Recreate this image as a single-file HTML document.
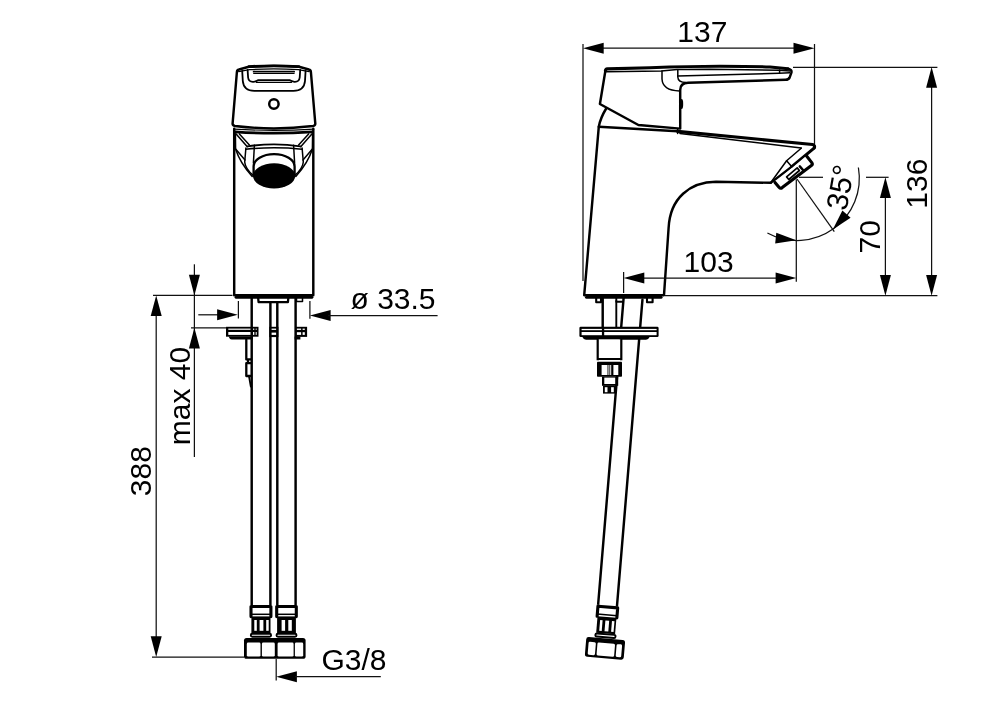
<!DOCTYPE html>
<html lang="en">
<head>
<meta charset="utf-8">
<title>Basin mixer dimension drawing</title>
<style>
  html, body { margin: 0; padding: 0; background: #ffffff; }
  body { width: 1000px; height: 707px; overflow: hidden; }
  svg { display: block; filter: grayscale(1); }
  text { font-family: "Liberation Sans", sans-serif; font-size: 30px; fill: #000; }
  .d { stroke: #111; stroke-width: 1.25; fill: none; }
  .o { stroke: #000; stroke-width: 2.45; fill: none; stroke-linejoin: round; stroke-linecap: round; }
  .k { stroke: #000; stroke-width: 3.1; fill: none; stroke-linejoin: round; stroke-linecap: round; }
  .t { stroke: #000; stroke-width: 1.5; fill: none; stroke-linejoin: round; stroke-linecap: round; }
  .w { fill: #fff; }
  .a { fill: #000; stroke: none; }
</style>
</head>
<body>
<svg width="1000" height="707" viewBox="0 0 1000 707">
<rect x="0" y="0" width="1000" height="707" fill="#ffffff"/>



<!-- FRONT-VIEW-DRAWING -->
<g id="front-view">
  <!-- hoses -->
  <line class="o" x1="251.7" y1="298" x2="251.7" y2="605"/>
  <line class="o" x1="270.4" y1="303" x2="270.4" y2="605"/>
  <line class="o" x1="277.3" y1="303" x2="277.3" y2="605"/>
  <line class="o" x1="295.6" y1="298" x2="295.6" y2="605"/>
  <!-- under-base plate -->
  <path class="o" d="M 258.2,298.4 L 258.6,302.1 L 287.9,302.1 L 288.3,298.4" style="stroke-width:2.3"/>
  <!-- right foot -->
  <path class="t" d="M 296.5,298 L 296.5,301.5 L 302.5,301.5 L 302.5,298"/>
  <!-- mounting plate left part -->
  <rect class="a" x="226" y="326.8" width="32.5" height="9.9"/>
  <rect class="w" x="228.3" y="328.6" width="22.2" height="1.2"/>
  <rect class="w" x="228.3" y="332" width="22.2" height="2.9"/>
  <rect class="w" x="253" y="328.6" width="1.3" height="1.2"/>
  <rect class="w" x="253" y="332" width="1.3" height="2.9"/>
  <rect class="w" x="255.7" y="328.6" width="1" height="1.2"/>
  <rect class="w" x="255.7" y="332" width="1" height="2.9"/>
  <path class="a" d="M 228.6,336.6 L 252.8,336.6 L 252.8,339.5 L 231.6,339.5 Q 229.4,339.2 228.6,336.6 Z"/>
  <!-- center clip -->
  <rect class="a" x="269.3" y="326.8" width="9.1" height="10.3"/>
  <rect class="w" x="271.6" y="328.6" width="4.5" height="1.3"/>
  <rect class="w" x="271.6" y="332.6" width="4.5" height="2.3"/>
  <!-- right clip -->
  <rect class="a" x="295.8" y="326.8" width="11.3" height="10.1"/>
  <rect class="w" x="296.9" y="328.6" width="4.2" height="1.3"/>
  <rect class="w" x="302.6" y="328.6" width="2.2" height="1.3"/>
  <rect class="w" x="296.9" y="332.2" width="4.2" height="2.7"/>
  <rect class="w" x="302.6" y="332.2" width="2.2" height="2.7"/>
  <path class="a" d="M 294.6,336.6 L 300.4,336.6 L 300.4,339.5 L 294.6,339.5 Z"/>
  <!-- stud under plate -->
  <path class="o" d="M 246.3,339.6 L 246.3,359.4 L 250.8,359.4 M 248,360 L 248,363 M 250.6,363.2 L 246.3,363.2 L 246.3,376 L 250.6,376" style="stroke-width:2.3"/>
  <path class="t" d="M 249,376.4 L 250.8,386.5" style="stroke-width:1.8"/>

  <!-- body -->
  <rect class="w" x="234.2" y="128" width="79.1" height="167.3"/>
  <path class="o" d="M 234.2,128.8 L 234.2,295.3 L 313.3,295.3 L 313.3,128.8"/>
  <line class="k" x1="236.2" y1="297.2" x2="311.8" y2="297.2"/>
  <!-- body top -->
  <path class="t" d="M 234,129.1 Q 273.9,131.6 313.8,129.1" style="stroke-width:1.1"/>
  <path class="k" d="M 235.4,131.8 Q 273.9,134.6 312.4,131.8" style="stroke-width:2.7"/>
  <!-- chamfer diagonals -->
  <path class="t" d="M 235.9,133.7 L 247.3,146.8 M 239.4,133.9 L 249.4,144.9"/>
  <path class="t" d="M 312.1,133.7 L 300.7,146.8 M 308.6,133.9 L 298.6,144.9"/>
  <!-- spout front -->
  <path class="t" d="M 247.6,146.4 Q 274,142.4 300.4,146.4" style="stroke-width:1.9"/>
  <path class="t" d="M 245.9,149.2 Q 274,146.4 302.1,149.2"/>
  <path class="t" d="M 254.4,145.2 L 253.4,163"/>
  <path class="t" d="M 293.6,145.2 L 294.6,163"/>
  <path class="t" d="M 245.9,148 L 244.7,162 Q 245.2,168.6 253.2,175.4"/>
  <path class="t" d="M 302.1,148 L 303.3,162 Q 302.8,168.6 294.8,175.4"/>
  <path class="t" d="M 235.4,134 L 235.6,149 Q 240,163 252.2,176.4"/>
  <path class="t" d="M 312.6,134 L 312.4,149 Q 308,163 295.8,176.4"/>
  <path class="t" d="M 235.2,148.6 L 245,160"/>
  <path class="t" d="M 312.8,148.6 L 303,160"/>
  <!-- aerator -->
  <path class="o" d="M 253.6,176 L 253.6,166.6 A 20.5,12.4 0 0 1 294.6,166.6 L 294.6,176" style="stroke-width:2.3"/>
  <ellipse class="a" cx="274.1" cy="175.9" rx="21.1" ry="12.6"/>

  <!-- handle -->
  <path class="w" d="M 232.6,123.5 L 236.9,72 Q 237,70 239,69.5 L 248.8,66.8 Q 273.9,65.3 299,66.8 L 308.8,69.5 Q 310.8,70 310.9,72 L 315.3,123.5 Q 315.4,125.6 313,126 Q 273.9,130.8 235,126 Q 232.5,125.6 232.6,123.5 Z"/>
  <path class="o" d="M 232.6,123.5 L 236.9,72 Q 237,70 239,69.5 L 248.8,66.8 Q 273.9,65.3 299,66.8 L 308.8,69.5 Q 310.8,70 310.9,72 L 315.3,123.5 Q 315.4,125.6 313,126 Q 273.9,130.8 235,126 Q 232.5,125.6 232.6,123.5 Z"/>
  <path class="k" d="M 249,66.6 Q 273.9,64.9 298.8,66.6" style="stroke-width:2.7"/>
  <path class="t" d="M 238.6,71.6 L 249.5,69.6 Q 273.9,68.2 298.3,69.6 L 309.2,71.6" style="stroke-width:1.2"/>
  <!-- U shapes -->
  <path class="t" d="M 242.2,70.8 L 242.8,81 Q 243.6,90.8 254.4,90.8 L 293.4,90.8 Q 304.2,90.8 305,81 L 305.6,70.8" style="stroke-width:1.8"/>
  <path class="t" d="M 247.6,70 L 248.1,77.5 Q 248.6,82 253.3,81.8 Q 256,81.6 258.4,80.1 L 289.4,80.1 Q 291.8,81.6 294.5,81.8 Q 299.2,82 299.7,77.5 L 300.2,70" style="stroke-width:1.8"/>
  <path class="t" d="M 256.4,82.4 L 291.4,82.4" style="stroke-width:1.2"/>
  <line class="t" x1="253.6" y1="71.7" x2="294.2" y2="71.7" style="stroke-width:1.7"/>
  <line class="t" x1="253.6" y1="73.5" x2="294.2" y2="73.5" style="stroke-width:1"/>
  <circle class="o" cx="273.9" cy="104" r="4.7"/>

  <!-- hose ends -->
  <g id="hose-end-l">
    <rect class="w" x="249.8" y="605.2" width="22.3" height="32.4"/>
    <path class="k" d="M 251.0,616.6 L 251.0,606.5 L 270.9,606.5 L 270.9,616.6"/>
    <line x1="251.0" y1="614.3" x2="270.9" y2="614.3" stroke="#000" stroke-width="1.5"/>
    <rect class="a" x="251.4" y="616.4" width="19.1" height="16.6"/>
    <rect class="w" x="254.3" y="620.0" width="2.5" height="10.8"/>
    <rect class="w" x="259.6" y="620.0" width="3.8" height="10.8"/>
    <rect class="w" x="266.2" y="620.0" width="2.5" height="10.8"/>
    <rect x="250.8" y="633.7" width="20.3" height="3.1" rx="1.5" fill="#fff" stroke="#000" stroke-width="1.9"/>
  </g>
  <g id="hose-end-r">
    <rect class="w" x="275.5" y="605.2" width="22.0" height="32.4"/>
    <path class="k" d="M 276.7,616.6 L 276.7,606.5 L 296.3,606.5 L 296.3,616.6"/>
    <line x1="276.7" y1="614.3" x2="296.3" y2="614.3" stroke="#000" stroke-width="1.5"/>
    <rect class="a" x="277.1" y="616.4" width="18.8" height="16.6"/>
    <rect class="w" x="281.6" y="620.0" width="3.5" height="10.8"/>
    <rect class="w" x="288.3" y="620.0" width="3.5" height="10.8"/>
    <rect x="276.5" y="633.7" width="20.0" height="3.1" rx="1.5" fill="#fff" stroke="#000" stroke-width="1.9"/>
  </g>
  <g id="nuts">
    <rect class="a" x="244.0" y="638.0" width="61.6" height="20.8" rx="2.6"/>
    <rect class="w" x="246.8" y="642.6" width="13.7" height="14.0" rx="1.4"/>
    <rect class="w" x="261.9" y="642.6" width="12.9" height="14.0" rx="1.4"/>
    <rect class="w" x="277.6" y="642.6" width="16.0" height="14.0" rx="1.4"/>
    <rect class="w" x="294.9" y="642.6" width="8.3" height="14.0" rx="1.4"/>
  </g>
</g>

<!-- SIDE-VIEW-DRAWING -->
<g id="side-view">
  <!-- hose (tilted) -->
  <g transform="rotate(4.75 633.1 298)">
    <rect class="w" x="623.7" y="299" width="18.8" height="308"/>
    <line class="o" x1="623.65" y1="299" x2="623.65" y2="607"/>
    <line class="o" x1="642.55" y1="299" x2="642.55" y2="607"/>
    <!-- ferrule -->
    <rect class="w" x="622.4" y="606.8" width="22.2" height="32.4"/>
    <path class="k" d="M 623.6,618.2 L 623.6,608.1 L 643.4,608.1 L 643.4,618.2"/>
    <line x1="623.6" y1="615.9" x2="643.4" y2="615.9" stroke="#000" stroke-width="1.5"/>
    <rect class="a" x="624.0" y="618.0" width="19.0" height="16.6"/>
    <rect class="w" x="626.9" y="621.6" width="2.5" height="10.8"/>
    <rect class="w" x="632.2" y="621.6" width="3.8" height="10.8"/>
    <rect class="w" x="638.8" y="621.6" width="2.5" height="10.8"/>
    <rect x="623.4" y="635.3" width="20.2" height="3.1" rx="1.5" fill="#fff" stroke="#000" stroke-width="1.9"/>
    <!-- nut -->
    <rect class="a" x="614.6" y="639.6" width="39.0" height="19.8" rx="2.6"/>
    <rect class="w" x="617.3" y="644.2" width="7.3" height="13.0" rx="1.4"/>
    <rect class="w" x="626.2" y="644.2" width="17.6" height="13.0" rx="1.4"/>
    <rect class="w" x="645.4" y="644.2" width="5.5" height="13.0" rx="1.4"/>
  </g>
  <!-- stud + rod under base -->
  <line class="o" x1="602.7" y1="298" x2="602.7" y2="328"/>
  <line class="o" x1="616.3" y1="301" x2="616.3" y2="328" style="stroke-width:1.9"/>
  
  <path class="o" d="M 616.3,298 L 616.3,301.8 L 622,301.8" style="stroke-width:1.9"/>
  <!-- feet -->
  <path class="o" d="M 596.2,298 L 596.2,302.3 L 601,302.3 L 601,298" style="stroke-width:2.1"/>
  <path class="o" d="M 647,298 L 647,302.3 L 652.6,302.3 L 652.6,298" style="stroke-width:2.1"/>
  <!-- mounting plate -->
  <rect class="a" x="579.4" y="326.7" width="79.2" height="10.3" rx="1.3"/>
  <rect class="w" x="581.6" y="328.9" width="20.3" height="1.3"/>
  <rect class="w" x="604.2" y="328.9" width="52.4" height="1.3"/>
  <rect class="w" x="581.6" y="332" width="20.3" height="3.2"/>
  <rect class="w" x="604.2" y="332" width="52.4" height="3.2"/>
  <path class="a" d="M 582.2,336.8 L 649.8,336.8 Q 648.6,339.6 646,339.8 L 586,339.8 Q 583.4,339.6 582.2,336.8 Z"/>
  <!-- cylinder / nut under plate -->
  <rect class="w" x="597.7" y="339.4" width="23.6" height="20"/>
  <path class="o" d="M 597.7,339.6 L 597.7,359.1 L 621.3,359.1 L 621.3,339.6" style="stroke-width:2.2;stroke-linejoin:miter"/>
  <rect class="w" x="599" y="360" width="21" height="2"/>
  <rect class="a" x="597" y="361.7" width="25" height="15.1" rx="0.8"/>
  <rect class="w" x="601.6" y="365" width="5.9" height="10"/>
  <rect class="w" x="613.4" y="365" width="4.9" height="10"/>
  <rect class="w" x="608.4" y="365" width="1" height="10"/>
  <rect class="w" x="610.2" y="365" width="1" height="10"/>
  <rect class="a" x="602" y="376.6" width="16.2" height="9.2"/>
  <rect class="w" x="604.3" y="377.6" width="10.9" height="6.4"/>
  <rect class="a" x="603" y="385.6" width="12.4" height="8"/>
  <rect class="w" x="604.8" y="387.2" width="2.7" height="5"/>
  <rect class="w" x="611.1" y="387.2" width="2.7" height="5"/>

  <!-- body -->
  <path class="w" d="M 598.8,126.7 L 677.8,130.8 L 813.8,144.8 Q 816.6,145.6 815.6,148.4 L 771,182.6 L 716,181.8 C 690,182 670,198 668.6,228 L 664,295.2 L 584.2,295.2 Z"/>
  <path class="o" d="M 605.9,109 Q 600.4,118 598.8,126.7 L 584.2,295.2 L 664,295.2 L 668.6,228 C 670,198 690,182 716,181.8 L 770.8,182.8"/>
  <line class="k" x1="586.6" y1="297.2" x2="661" y2="297.2"/>
  <!-- body top line -->
  <path class="o" d="M 598.8,126.7 L 677.6,131.3"/>
  <path class="k" d="M 677.6,131.4 L 812.6,144.5 Q 815.2,145.2 814.4,147.8"/>
  <path class="t" d="M 680,133.4 L 801.2,148"/>
  <line class="t" x1="677.6" y1="128.6" x2="677.6" y2="133.6"/>
  <!-- spout face -->
  <path class="k" d="M 813.8,148.4 L 791.8,166.6"/>
  <path class="o" d="M 791.8,166.6 L 771,182.6"/>
  <path class="t" d="M 801.2,148.2 L 786.6,160.8 L 771.2,182"/>
  <path class="t" d="M 786.6,160.8 L 791.6,166.6"/>
  <!-- aerator -->
  <path class="w" d="M 806.4,155.8 L 812.4,163.4 L 780.4,188.2 L 774.8,182.4 Z"/>
  <path class="k" d="M 806.4,155.8 L 811.8,162.6 Q 813,164.4 811.4,165.6 L 782.2,187.6 Q 780.4,188.8 779,187.2 L 775,182.4"/>
  <path d="M 786.6,176.9 L 797.2,167.9 L 799.4,170.5 L 788.8,179.5 Z" fill="#fff" stroke="#000" stroke-width="1.7" stroke-linejoin="round"/>
  <path class="o" d="M 799.8,166.4 L 803,170"/>

  <!-- handle -->
  <path class="w" d="M 605.4,70.8 Q 605.6,69.1 607.4,68.9 L 650,67.7 Q 690,66.2 720,66.2 Q 750,66.2 770,67 L 788,68.8 Q 792.2,69.6 791.4,72.6 L 789.6,77.6 Q 788.6,79.7 785.6,79.8 L 688,82.7 Q 680.2,83 680.2,90 L 680.2,128.6 L 638.4,125 L 599.9,104 Z"/>
  <path class="o" d="M 605.4,70.8 L 599.9,104 L 638.4,125 L 680.2,128.6 L 680.2,90 Q 680.2,83 688,82.7 L 785.6,79.8 Q 788.6,79.7 789.6,77.6 L 791.4,72.6 Q 792.2,69.6 788,68.8"/>
  <path class="k" d="M 605.4,70.8 Q 605.6,69.1 607.4,68.9 L 650,67.7 Q 690,66.2 720,66.2 Q 750,66.2 770,67 L 788,68.8"/>
  <path class="t" d="M 606.4,71.8 L 661.4,70.9 L 677,69.6 L 710,69.3 L 779,70.3 L 790,70.9"/>
  <path class="t" d="M 662,71 L 662,79 Q 662.6,90.4 679.4,91"/>
  <path class="t" d="M 677.8,70 L 677.8,77 Q 678,82.4 686,82.6"/>
  <path class="t" d="M 677.8,76 L 779,73.3 L 789.8,72.8"/>
  <path class="t" d="M 779.6,70 L 779.6,72.8"/>
  <ellipse class="a" cx="681.6" cy="104" rx="1.6" ry="5"/>
</g>

<!-- ================= DIMENSIONS : FRONT VIEW ================= -->
<g id="dims-front">
  <!-- 388 -->
  <line class="d" x1="153" y1="295.4" x2="232.5" y2="295.4"/>
  <line class="d" x1="152" y1="657" x2="244" y2="657"/>
  <line class="d" x1="156.2" y1="300" x2="156.2" y2="652"/>
  <polygon class="a" points="156.2,295.4 161.7,316.1 150.7,316.1"/>
  <polygon class="a" points="156.2,657.0 150.7,636.3 161.7,636.3"/>
  <text transform="translate(151,471.2) rotate(-90)" text-anchor="middle">388</text>
  <!-- max 40 -->
  <line class="d" x1="194.4" y1="264.3" x2="194.4" y2="457"/>
  <polygon class="a" points="194.4,295.4 188.9,274.7 199.9,274.7"/>
  <polygon class="a" points="194.4,327.8 199.9,348.5 188.9,348.5"/>
  <line class="d" x1="191" y1="327.8" x2="226.5" y2="327.8"/>
  <text transform="translate(189.8,396) rotate(-90)" text-anchor="middle">max 40</text>
  <!-- diameter 33.5 -->
  <line class="d" x1="198.3" y1="314.8" x2="220" y2="314.8"/>
  <polygon class="a" points="237.8,314.8 217.1,320.3 217.1,309.3"/>
  <line class="d" x1="238.4" y1="301" x2="238.4" y2="318.5"/>
  <line class="d" x1="309.9" y1="301" x2="309.9" y2="318.8"/>
  <polygon class="a" points="309.9,315.6 330.6,310.1 330.6,321.1"/>
  <line class="d" x1="328" y1="315.6" x2="437.6" y2="315.6"/>
  <text x="393" y="309.2" text-anchor="middle">ø 33.5</text>
  <!-- G3/8 -->
  <line class="d" x1="276.2" y1="659" x2="276.2" y2="680.5"/>
  <polygon class="a" points="276.2,676.7 296.9,671.2 296.9,682.2"/>
  <line class="d" x1="295" y1="676.7" x2="380.8" y2="676.7"/>
  <text x="354" y="670" text-anchor="middle">G3/8</text>
</g>

<!-- ================= DIMENSIONS : SIDE VIEW ================= -->
<g id="dims-side">
  <!-- 137 -->
  <line class="d" x1="583" y1="44" x2="583" y2="281"/>
  <line class="d" x1="814.5" y1="44" x2="814.5" y2="144"/>
  <line class="d" x1="600" y1="48.2" x2="797" y2="48.2"/>
  <polygon class="a" points="583.0,48.2 603.7,42.7 603.7,53.7"/>
  <polygon class="a" points="814.5,48.2 793.5,53.7 793.5,42.7"/>
  <text x="702.4" y="41.8" text-anchor="middle">137</text>
  <!-- 136 -->
  <line class="d" x1="793" y1="67.3" x2="937.4" y2="67.3"/>
  <line class="d" x1="664.8" y1="295.7" x2="937.4" y2="295.7"/>
  <line class="d" x1="931.6" y1="85" x2="931.6" y2="277"/>
  <polygon class="a" points="931.6,67.0 937.1,87.7 926.1,87.7"/>
  <polygon class="a" points="931.6,295.7 926.1,275.0 937.1,275.0"/>
  <text transform="translate(926.6,183.6) rotate(-90)" text-anchor="middle">136</text>
  <!-- 70 -->
  <line class="d" x1="866" y1="177.3" x2="888.6" y2="177.3"/>
  <line class="d" x1="885.4" y1="195" x2="885.4" y2="277"/>
  <polygon class="a" points="885.4,177.3 890.9,198.0 879.9,198.0"/>
  <polygon class="a" points="885.4,295.7 879.9,275.0 890.9,275.0"/>
  <text transform="translate(880,236.8) rotate(-90)" text-anchor="middle">70</text>
  <!-- 103 -->
  <line class="d" x1="623.6" y1="272" x2="623.6" y2="293"/>
  <line class="d" x1="796.3" y1="179.5" x2="796.3" y2="281.8"/>
  <line class="d" x1="642" y1="278" x2="778" y2="278"/>
  <polygon class="a" points="623.6,278.0 644.3,272.5 644.3,283.5"/>
  <polygon class="a" points="796.3,278.0 775.6,283.5 775.6,272.5"/>
  <text x="708.6" y="271.6" text-anchor="middle">103</text>
  <!-- 35 degrees -->
  <line class="d" x1="799" y1="177.3" x2="823" y2="177.3"/>
  <line class="d" x1="797" y1="179" x2="834.3" y2="231.6"/>
  <path class="d" d="M 767.4,233 A 62.3,62.3 0 0 0 858.4,167.5"/>
  <polygon class="a" points="796.3,240.2 775.2,243.6 776.3,232.7"/>
  <polygon class="a" points="832.8,229.6 842.4,210.4 850.6,217.7"/>
  <text transform="translate(850.5,189.2) rotate(-80)" text-anchor="middle">35°</text>
</g>

</svg>
</body>
</html>
